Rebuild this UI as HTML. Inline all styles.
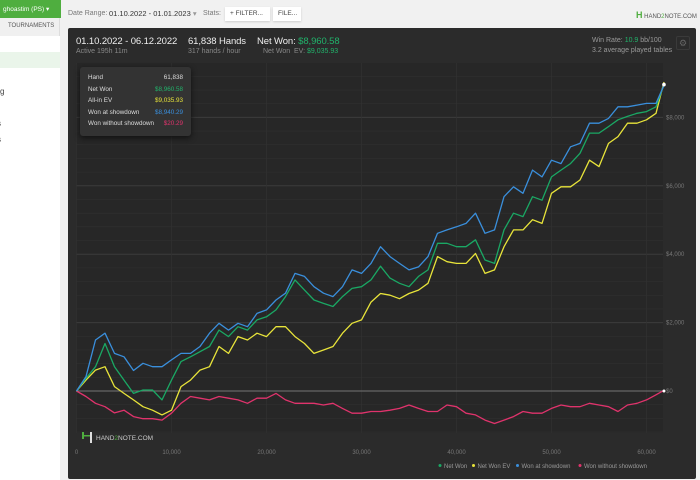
<!DOCTYPE html>
<html><head><meta charset="utf-8"><style>
*{margin:0;padding:0;box-sizing:border-box}
body{width:700px;height:480px;overflow:hidden;background:#f1f1f1;font-family:"Liberation Sans",sans-serif;position:relative}
.a{position:absolute;white-space:nowrap}
.big{font-size:9.5px;letter-spacing:-0.1px;color:#eee}
.sm{font-size:7px;color:#888}
</style></head><body>
<div class="a" style="left:0;top:0;width:60px;height:480px;background:#fff"></div>
<div class="a" style="left:0;top:0;width:61px;height:18px;background:#4fae3f;color:#fff;font-size:6.5px;padding:5px 0 0 3px">ghoastim (PS) &#9662;</div>
<div class="a" style="left:0;top:18px;width:60px;height:18px;background:#f0f0f0;color:#555;font-size:6px;padding:5px 0 0 8px;border-right:1px solid #ddd">TOURNAMENTS</div>
<div class="a" style="left:0;top:52px;width:60px;height:16px;background:#eaf5ea"></div>
<div class="a" style="left:0;top:87px;font-size:8px;color:#444">g</div>
<div class="a" style="left:-3px;top:119px;font-size:8px;color:#444">s</div>
<div class="a" style="left:-3px;top:135px;font-size:8px;color:#444">s</div>
<div class="a" style="left:68px;top:10px;font-size:7px;color:#777">Date Range:</div>
<div class="a" style="left:109px;top:9px;font-size:7.5px;color:#333">01.10.2022 - 01.01.2023 <span style="color:#999">&#9662;</span></div>
<div class="a" style="left:203px;top:10px;font-size:7px;color:#777">Stats:</div>
<div class="a" style="left:225px;top:7px;width:45px;height:14px;background:#fff;font-size:6.5px;color:#444;padding:3px 0 0 5px;box-shadow:0 1px 2px #ccc">+ FILTER...</div>
<div class="a" style="left:273px;top:7px;width:28px;height:14px;background:#fff;font-size:6.5px;color:#444;padding:3px 0 0 5px;box-shadow:0 1px 2px #ccc">FILE...</div>
<div class="a" style="left:636px;top:10px;font-size:6px;color:#555"><span style="color:#4fae3f;font-weight:bold;font-size:9px">H</span> HAND<span style="color:#4fae3f">2</span>NOTE.COM</div>

<div class="a" style="left:68px;top:28px;width:628px;height:451px;background:#2b2b2b;border-radius:2px"></div>
<div class="a big" style="left:76px;top:36px">01.10.2022 - 06.12.2022</div>
<div class="a sm" style="left:76px;top:48px">Active 195h 11m</div>
<div class="a big" style="left:188px;top:36px">61,838 Hands</div>
<div class="a sm" style="left:188px;top:48px">317 hands / hour</div>
<div class="a big" style="left:257px;top:36px">Net Won: <span style="color:#21b36b">$8,960.58</span></div>
<div class="a sm" style="left:263px;top:48px">Net Won&nbsp; EV: <span style="color:#21b36b">$9,035.93</span></div>
<div class="a" style="left:592px;top:37px;font-size:7px;color:#999">Win Rate: <span style="color:#21b36b">10.9</span> bb/100</div>
<div class="a" style="left:592px;top:47px;font-size:7px;color:#999">3.2 average played tables</div>
<div class="a" style="left:676px;top:36px;width:14px;height:14px;border:1px solid #3a3a3a;border-radius:2px;color:#666;font-size:9px;text-align:center;line-height:12px">&#9881;</div>

<svg class="a" style="left:0;top:0" width="700" height="480">
<g id="grid"></g><g id="lines"></g><g id="axes"></g>
<g><rect x="82" y="432" width="2" height="7" fill="#4fae3f"/><rect x="82" y="435" width="10" height="1.5" fill="#4fae3f"/><rect x="90" y="432" width="2" height="11" fill="#ddd"/><text x="96" y="440" font-size="6.5" fill="#ccc" font-family="Liberation Sans">HAND<tspan fill="#4fae3f">2</tspan>NOTE.COM</text></g>
<g id="legend"></g>
</svg>

<div class="a" style="left:80px;top:67px;width:111px;height:69px;background:#333;border-radius:3px;box-shadow:0 2px 6px #111;font-size:6.3px;color:#ddd;padding:5px 8px 0 8px;line-height:11.6px">
<div>Hand<span style="float:right">61,838</span></div>
<div>Net Won<span style="float:right;color:#21b36b">$8,960.58</span></div>
<div>All-in EV<span style="float:right;color:#e6e23a">$9,035.93</span></div>
<div>Won at showdown<span style="float:right;color:#3a8fdc">$8,940.29</span></div>
<div>Won without showdown<span style="float:right;color:#e0336c">$20.29</span></div>
</div>

<script>
const hands=[0,1000,2000,3000,4000,5000,6000,7000,8000,9000,10000,11000,12000,13000,14000,15000,16000,17000,18000,19000,20000,21000,22000,23000,24000,25000,26000,27000,28000,29000,30000,31000,32000,33000,34000,35000,36000,37000,38000,39000,40000,41000,42000,43000,44000,45000,46000,47000,48000,49000,50000,51000,52000,53000,54000,55000,56000,57000,58000,59000,60000,61000,61838];
const netWon=[0,370,710,1390,710,320,-70,30,30,-260,320,860,1000,1150,1300,1780,1590,1880,1780,2080,2170,2370,2760,3250,2950,2660,2560,2470,2760,3000,3050,3250,3650,3300,3150,3050,3350,3540,4320,4320,4220,4220,4420,3830,3730,4710,5200,5100,5680,5580,6260,6460,6650,6950,7540,7540,7730,7930,8030,8120,8170,8310,8960];
const netWonEV=[0,320,610,710,130,-70,-260,-460,-560,-700,-560,130,320,610,710,1300,1100,1590,1490,1690,1590,1880,1880,1590,1390,1100,1200,1300,1690,1980,2080,2600,2850,2800,2700,2850,2950,3150,3930,3780,3730,3730,4020,3440,3540,4220,4710,4710,5010,4900,5780,5970,5970,6170,6750,6560,7240,7440,7830,7830,7930,8120,9035];
const showdown=[0,420,1490,1690,1100,1000,600,810,710,710,910,1100,1100,1300,1690,1980,1780,1980,1880,2270,2370,2660,2860,3440,3350,3050,2860,2760,3050,3540,3440,3730,4220,3930,3730,3540,3630,3930,4610,4710,4800,4900,5200,4610,4710,5680,5970,5780,6460,6260,6750,6650,7140,7240,7830,7830,7970,8310,8310,8360,8410,8410,8940];
const noShowdown=[0,-160,-360,-460,-640,-560,-750,-810,-810,-850,-650,-360,-160,-210,-260,-160,-210,-260,-360,-210,-210,-70,-260,-360,-360,-360,-410,-360,-510,-650,-650,-600,-600,-560,-510,-410,-510,-600,-600,-410,-460,-650,-700,-850,-950,-850,-750,-600,-650,-650,-510,-410,-460,-460,-360,-410,-460,-600,-410,-360,-260,-110,20];
const xTicks=[0,10000,20000,30000,40000,50000,60000];
const xTickLabels=["0","10,000","20,000","30,000","40,000","50,000","60,000"];
const yTicks=[0,2000,4000,6000,8000];
const yTickLabels=["$0","$2,000","$4,000","$6,000","$8,000"];
const legendLabels=["Net Won","Net Won  EV","Won at showdown","Won without showdown"];
const colors=["#1aa864","#e8e43a","#3a8fdc","#e0336c"];

const X=v=>76.5+v*0.0095;
const Y=v=>391-v*0.0342;
const NS="http://www.w3.org/2000/svg";
function mk(tag,attrs,parent){const e=document.createElementNS(NS,tag);for(const k in attrs)e.setAttribute(k,attrs[k]);parent.appendChild(e);return e;}
const grid=document.getElementById('grid'),lines=document.getElementById('lines'),axes=document.getElementById('axes'),legend=document.getElementById('legend');
mk('rect',{x:76,y:63,width:587,height:370,fill:'#272727'},grid);
for(let v=-1200;v<=9200;v+=400){
  const l=mk('line',{x1:76,x2:663,y1:Y(v),y2:Y(v),stroke:v%2000===0?'#3c3c3c':'#303030','stroke-width':v%2000===0?1:0.6},grid);
  
  
}
xTicks.forEach((t,i)=>{
  const l=mk('line',{x1:X(t),x2:X(t),y1:63,y2:433,stroke:'#323232','stroke-width':0.7},grid);
  
  
  const tx=mk('text',{x:X(t),y:454,'font-size':6,fill:'#777','text-anchor':'middle','font-family':'Liberation Sans'},axes);
  tx.textContent=xTickLabels[i];
  
  
});
yTicks.forEach((t,i)=>{
  const tx=mk('text',{x:666,y:Y(t)+2,'font-size':6,fill:'#777','font-family':'Liberation Sans'},axes);
  tx.textContent=yTickLabels[i];
  
  
});
const zl=mk('line',{x1:76,x2:664,y1:Y(0),y2:Y(0),stroke:'#8a8a8a','stroke-width':0.8},grid);


const series=[netWon,netWonEV,showdown,noShowdown];
const names=['net-won-line','net-won-ev-line','won-at-showdown-line','won-without-showdown-line'];
[3,1,0,2].forEach(si=>{
  const d=series[si].map((v,i)=>(i?'L':'M')+X(hands[i]).toFixed(1)+','+Y(v).toFixed(1)).join('');
  const p=mk('path',{d:d,fill:'none',stroke:colors[si],'stroke-width':1.3,'stroke-linejoin':'round'},lines);
  
  
});
const last=hands.length-1;
const ep=mk('circle',{cx:X(hands[last]),cy:Y(netWon[last]),r:1.8,fill:'#fff'},lines);


const ep2=mk('circle',{cx:X(hands[last]),cy:Y(0),r:1.5,fill:'#fff'},lines);


let lx=440;
legendLabels.forEach((lab,i)=>{
  const g=mk('g',{},legend);
  
  
  mk('circle',{cx:lx,cy:465.5,r:1.5,fill:colors[i]},g);
  const t=mk('text',{x:lx+4,y:468,'font-size':6,fill:'#999','font-family':'Liberation Sans','xml:space':'preserve'},g);
  t.textContent=lab;
  lx+=[33.5,44,62.5,0][i];
});
</script>
</body></html>
